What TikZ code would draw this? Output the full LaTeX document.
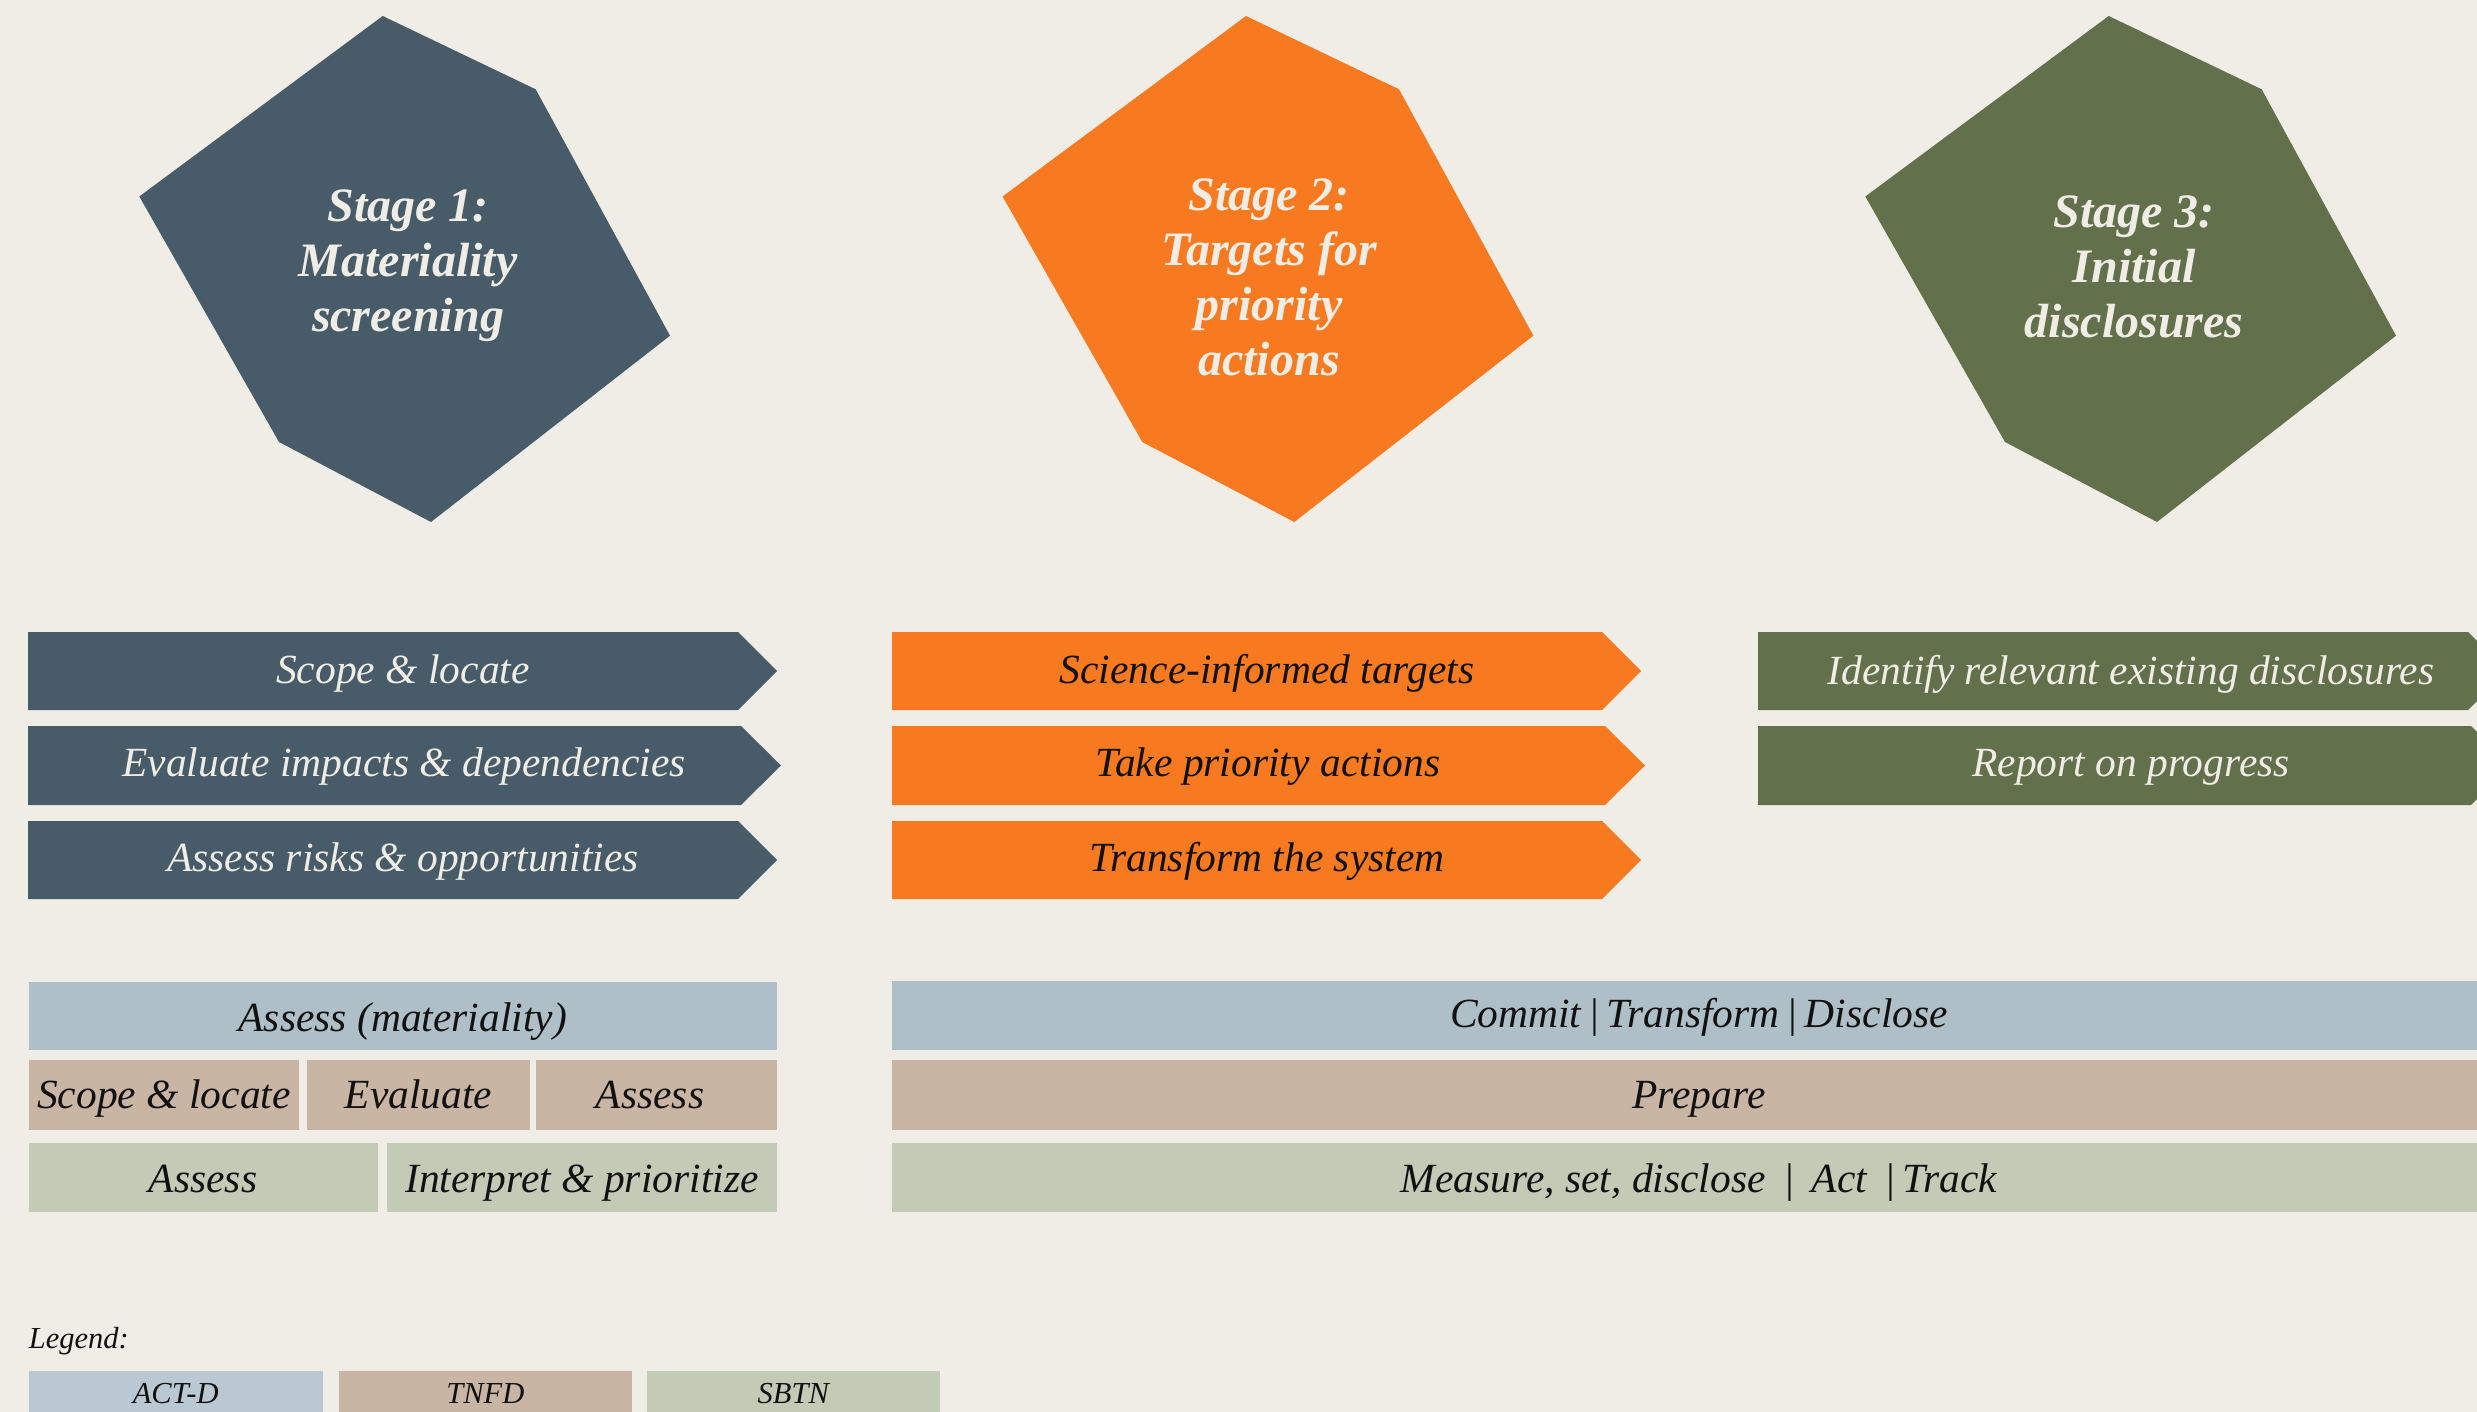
\documentclass[tikz,border=0pt]{standalone}
\usepackage{fontspec}
\setmainfont{Liberation Serif}
\definecolor{bg}{HTML}{F0EDE6}
\definecolor{slate}{HTML}{475C68}
\definecolor{orng}{HTML}{F77A20}
\definecolor{olive}{HTML}{62704B}
\definecolor{actd}{HTML}{AFBFC7}
\definecolor{tnfd}{HTML}{C9B5A4}
\definecolor{sbtn}{HTML}{C3CAB5}
\definecolor{actdleg}{HTML}{BAC8D4}
\definecolor{cream}{HTML}{F0EDE6}
\definecolor{ink}{HTML}{111111}
\newcommand\stagehex[2]{%
  \fill[#2, shift={(#1,0)}] (382.7,16) -- (535.7,89.3) -- (670,335.7) -- (431,522) -- (279,442) -- (139.3,196.5) -- cycle;}
\newcommand\chevshape[6]{%
  \fill[#6] (#1,#2) -- (#4,#2) -- (#5,{(#2+#3)/2}) -- (#4,#3) -- (#1,#3) -- cycle;}
\tikzset{
  hextext/.style={text=cream, font=\fontsize{48}{55}\selectfont\bfseries\itshape, align=center, inner sep=0pt},
  arrtext/.style={font=\fontsize{41.5}{49}\selectfont\itshape, inner sep=0pt, anchor=base},
  celltext/.style={font=\fontsize{41.5}{49}\selectfont\itshape, text=ink, inner sep=0pt, anchor=base},
  legtext/.style={font=\fontsize{30.5}{36}\selectfont\itshape, text=ink, inner sep=0pt, anchor=base},
}
\begin{document}
\begin{tikzpicture}[x=1pt,y=-1pt]
\useasboundingbox (0,0) rectangle (2477,1412);
\fill[bg] (0,0) rectangle (2477,1412);

% stage hexagons
\stagehex{0}{slate}
\stagehex{863.3}{orng}
\stagehex{1726}{olive}
\node[hextext] (h1) at (408,266) {Stage 1:\\Materiality\\screening};
\node[hextext] (h2) at (1269,277) {Stage 2:\\Targets for\\priority\\actions};
\node[hextext] (h3) at (2134,267) {Stage 3:\\Initial\\disclosures};

% stage 1 arrows
\chevshape{28}{632}{710}{738}{777}{slate}
\chevshape{28}{726}{805}{741}{781}{slate}
\chevshape{28}{821}{899}{738}{777}{slate}
\node[arrtext, text=cream] (a11) at (403,683) {Scope \& locate};
\node[arrtext, text=cream] (a12) at (404,776) {Evaluate impacts \& dependencies};
\node[arrtext, text=cream] (a13) at (403,871) {Assess risks \& opportunities};

% stage 2 arrows
\chevshape{892}{632}{710}{1602}{1641}{orng}
\chevshape{892}{726}{805}{1605}{1645}{orng}
\chevshape{892}{821}{899}{1602}{1641}{orng}
\node[arrtext, text=ink] (a21) at (1267,683) {Science-informed targets};
\node[arrtext, text=ink] (a22) at (1268,776) {Take priority actions};
\node[arrtext, text=ink] (a23) at (1267,871) {Transform the system};

% stage 3 arrows
\chevshape{1758}{632}{710}{2468}{2507}{olive}
\chevshape{1758}{726}{805}{2471}{2511}{olive}
\node[arrtext, text=cream] (a31) at (2131,684) {Identify relevant existing disclosures};
\node[arrtext, text=cream] (a32) at (2131,776) {Report on progress};

% framework rows, left
\fill[actd] (28.7,982) rectangle (777,1050);
\fill[tnfd] (28.7,1060) rectangle (299,1130);
\fill[tnfd] (307,1060) rectangle (530,1130);
\fill[tnfd] (536,1060) rectangle (777,1130);
\fill[sbtn] (28.7,1143) rectangle (378,1212);
\fill[sbtn] (386.5,1143) rectangle (777,1212);
\node[celltext] (l1) at (402.8,1031) {Assess (materiality)};
\node[celltext] (l2a) at (164,1108) {Scope \& locate};
\node[celltext] (l2b) at (418.5,1108) {Evaluate};
\node[celltext] (l2c) at (650,1108) {Assess};
\node[celltext] (l3a) at (203,1192) {Assess};
\node[celltext] (l3b) at (582,1192) {Interpret \& prioritize};

% framework rows, right
\fill[actd] (892,981) rectangle (2507,1050);
\fill[tnfd] (892,1060) rectangle (2507,1130);
\fill[sbtn] (892,1143) rectangle (2507,1212);
\node[celltext] (r1) at (1699,1027) {Commit\,|\,Transform\,|\,Disclose};
\node[celltext] (r2) at (1699,1108) {Prepare};
\node[celltext] (r3) at (1699,1192) {Measure, set, disclose \,|\, Act \,|\,Track};

% legend
\node[legtext, anchor=base west] (leg) at (28.7,1348) {Legend:};
\fill[actdleg] (28.7,1371) rectangle (322.7,1420);
\fill[tnfd] (338.6,1371) rectangle (632,1420);
\fill[sbtn] (646.7,1371) rectangle (940,1420);
\node[legtext] (lg1) at (175.7,1403) {ACT-D};
\node[legtext] (lg2) at (485.3,1403) {TNFD};
\node[legtext] (lg3) at (793.3,1403) {SBTN};
\end{tikzpicture}
\end{document}
